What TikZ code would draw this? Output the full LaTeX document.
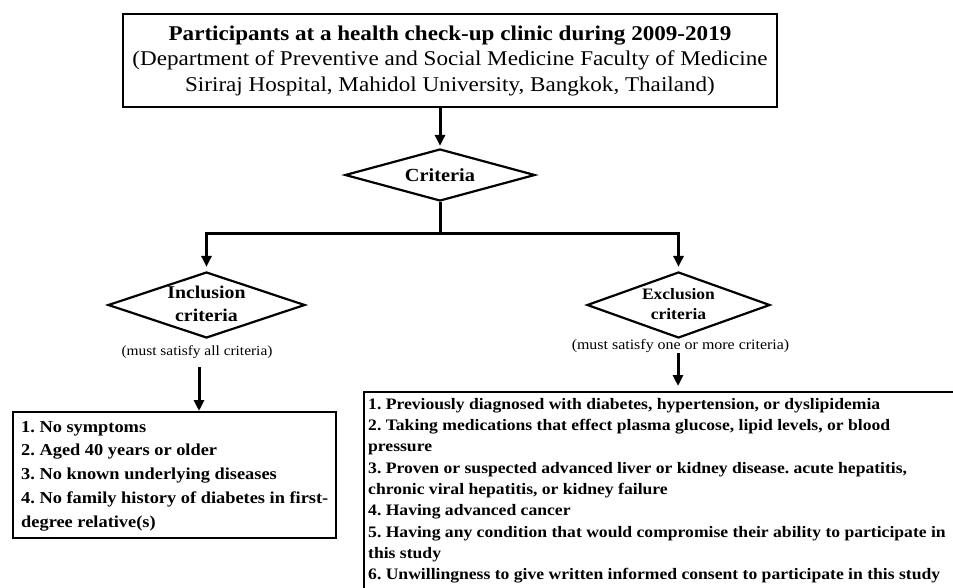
\documentclass[tikz,border=0pt]{standalone}
\usepackage{fontspec}
\setmainfont{Liberation Serif}[FakeStretch=1.1]
\usetikzlibrary{arrows.meta,positioning,shapes.geometric}
\frenchspacing

\begin{document}
\begin{tikzpicture}[
  x=1pt, y=-1pt,
  rbox/.style={draw, line width=2.2pt, inner sep=0pt},
  dbox/.style={draw, diamond, line width=2.2pt, inner sep=0pt},
  dtext/.style={align=center, inner sep=0pt},
  note/.style={inner sep=0pt},
  list/.style={align=left, inner sep=0pt},
  arr/.style={-{Triangle[length=11pt,width=10pt]}, line width=3pt},
  seg/.style={line width=3pt}
]
\useasboundingbox (0,0) rectangle (953,588);
% top box
\node[rbox, minimum width=654pt, minimum height=93pt, align=center,
      font=\fontsize{21}{25.5}\selectfont] (top) at (450,60.5)
  {\textbf{Participants at a health check-up clinic during 2009-2019}\\
   (Department of Preventive and Social Medicine Faculty of Medicine\\
   Siriraj Hospital, Mahidol University, Bangkok, Thailand)};
% diamonds
\node[dbox, minimum width=190pt, minimum height=52pt,
      label={[dtext, font=\bfseries\fontsize{18.5}{20}\selectfont]center:Criteria}] (crit) at (440,175) {};
\node[dbox, minimum width=197pt, minimum height=66pt,
      label={[dtext, font=\bfseries\fontsize{18}{23}\selectfont, yshift=1pt]center:{Inclusion\\criteria}}] (incl) at (206.5,305) {};
\node[dbox, minimum width=183pt, minimum height=66pt,
      label={[dtext, font=\bfseries\fontsize{15.9}{20}\selectfont, yshift=1pt]center:{Exclusion\\criteria}}] (excl) at (678.5,305) {};
\node[note, font=\fontsize{14}{16}\selectfont] (inote) at (197,352) {(must satisfy all criteria)};
\node[note, font=\fontsize{14.5}{16}\selectfont] (enote) at (680.5,346) {(must satisfy one or more criteria)};
% lists
\node[rbox, anchor=north west, minimum width=323pt, minimum height=126pt] (ibox) at (12,411) {};
\node[list, anchor=north west, font=\bfseries\fontsize{16.7}{23.7}\selectfont] (ilist) at (21,421)
  {1. No symptoms\\
   2. Aged 40 years or older\\
   3. No known underlying  diseases\\
   4. No family history  of diabetes in first-\\
   degree relative(s)};
\node[rbox, anchor=north west, minimum width=620pt, minimum height=230pt] (ebox) at (363,391) {};
\node[list, anchor=north west, font=\bfseries\fontsize{16}{21.3}\selectfont] (elist) at (368,398)
  {1. Previously diagnosed with diabetes, hypertension,  or dyslipidemia\\
   2. Taking medications that effect plasma glucose, lipid levels, or blood\\
   pressure\\
   3. Proven or suspected advanced liver or kidney disease. acute hepatitis,\\
   chronic viral  hepatitis, or kidney failure\\
   4. Having advanced cancer\\
   5. Having any condition that would compromise their ability to participate in\\
   this study\\
   6. Unwillingness  to give written informed consent to participate in this study};
% connectors
\coordinate (split) at (440,234);
\coordinate (itop) at (199,367);
\coordinate (etop) at (678,353);
\draw[arr] (crit.north |- top.south) -- ([yshift=2pt]crit.north);
\draw[seg] (crit.south) -- (split);
\draw[arr] (split) -| ([yshift=4pt]incl.north);
\draw[arr] (split) -| ([yshift=4pt]excl.north);
\draw[arr] (itop) -- (itop |- ibox.north);
\draw[arr] (etop) -- ([yshift=5pt]etop |- ebox.north);
\end{tikzpicture}
\end{document}
